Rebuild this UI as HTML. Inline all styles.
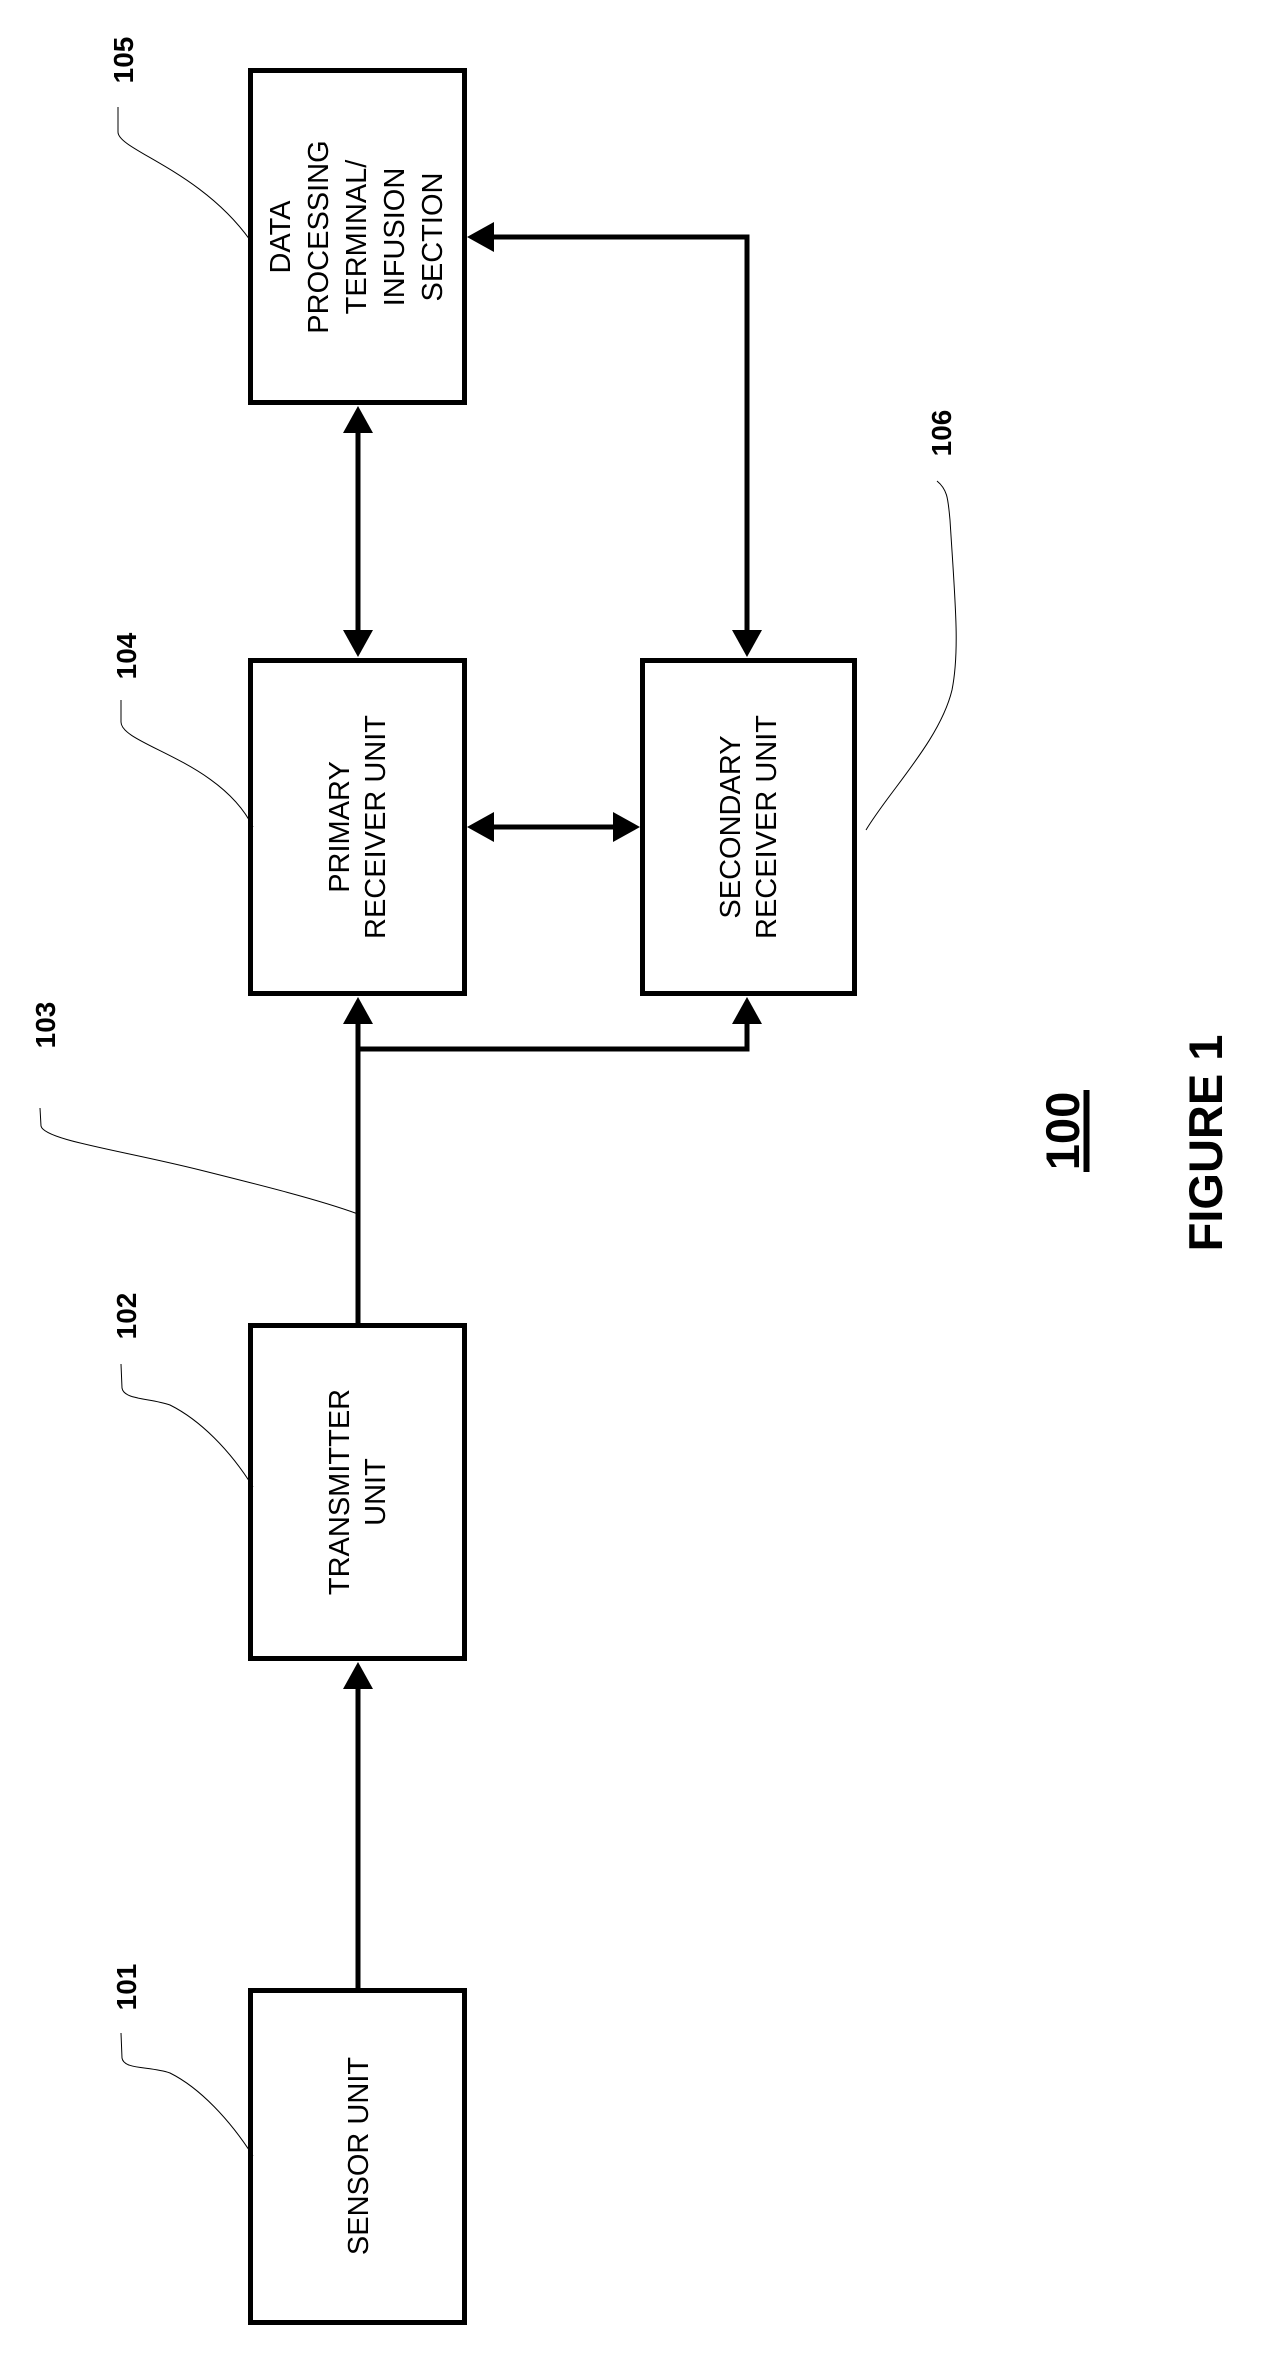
<!DOCTYPE html>
<html><head><meta charset="utf-8"><style>
html,body{margin:0;padding:0;background:#fff}
svg{display:block}
text{font-family:"Liberation Sans",Arial,sans-serif;fill:#000}
</style></head><body>
<svg width="1264" height="2362" viewBox="0 0 1264 2362" xmlns="http://www.w3.org/2000/svg">
<g fill="none" stroke="#000" stroke-width="5" stroke-linejoin="miter">
<rect x="250.5" y="70.5" width="214" height="332"/>
<rect x="250.5" y="660.5" width="214" height="333"/>
<rect x="642.5" y="660.5" width="212" height="333"/>
<rect x="250.5" y="1325.5" width="214" height="333"/>
<rect x="250.5" y="1990.5" width="214" height="332"/>
<!-- connectors -->
<line x1="358" y1="430" x2="358" y2="632"/>
<polyline points="494,237 747,237 747,632"/>
<line x1="494" y1="827" x2="613" y2="827"/>
<line x1="358" y1="1323" x2="358" y2="1022"/>
<polyline points="358,1049 747,1049 747,1022"/>
<line x1="358" y1="1988" x2="358" y2="1688"/>
</g>
<g fill="#000">
<polygon points="358,406 343,433 373,433"/>
<polygon points="358,657 343,630 373,630"/>
<polygon points="467,237 494,222 494,252"/>
<polygon points="747,657 732,630 762,630"/>
<polygon points="467,827 494,812 494,842"/>
<polygon points="640,827 613,812 613,842"/>
<polygon points="358,997 343,1024 373,1024"/>
<polygon points="747,997 732,1024 762,1024"/>
<polygon points="358,1662 343,1689 373,1689"/>
</g>
<!-- leaders -->
<g fill="none" stroke="#000" stroke-width="1">
<path d="M118,107 L118,132 C118,150 200,170 250,240"/>
<path d="M121,700 L121,722 C121,745 220,760 253,827"/>
<path d="M937,481 C948,490 948,500 950,520 C955,600 960,650 952,690 C940,740 890,790 866,830"/>
<path d="M40,1108 L41,1126 C44,1140 120,1150 200,1170 C260,1185 320,1200 358,1214"/>
<path d="M121,1364 L122,1388 C124,1400 150,1398 170,1405 C200,1420 230,1450 253,1487"/>
<path d="M121,2033 L122,2058 C124,2070 150,2066 170,2073 C200,2088 230,2120 253,2156"/>
</g>
<!-- labels -->
<g font-weight="bold" font-size="28" text-anchor="middle">
<text transform="translate(133,60) rotate(-90)">105</text>
<text transform="translate(136,656) rotate(-90)">104</text>
<text transform="translate(951,433) rotate(-90)">106</text>
<text transform="translate(55,1025) rotate(-90)">103</text>
<text transform="translate(136,1316) rotate(-90)">102</text>
<text transform="translate(136,1987) rotate(-90)">101</text>
</g>
<g font-size="29" text-anchor="middle">
<text transform="translate(290,237) rotate(-90)">DATA</text>
<text transform="translate(328,237) rotate(-90)">PROCESSING</text>
<text transform="translate(366,237) rotate(-90)">TERMINAL/</text>
<text transform="translate(404,237) rotate(-90)">INFUSION</text>
<text transform="translate(442,237) rotate(-90)">SECTION</text>
<text transform="translate(349,827) rotate(-90)">PRIMARY</text>
<text transform="translate(385,827) rotate(-90)">RECEIVER UNIT</text>
<text transform="translate(740,827) rotate(-90)">SECONDARY</text>
<text transform="translate(776,827) rotate(-90)">RECEIVER UNIT</text>
<text transform="translate(349,1492) rotate(-90)">TRANSMITTER</text>
<text transform="translate(385,1492) rotate(-90)">UNIT</text>
<text transform="translate(368,2156) rotate(-90)">SENSOR UNIT</text>
</g>
<g font-weight="bold" font-size="47" text-anchor="middle">
<text transform="translate(1079,1131) rotate(-90)">100</text>
<text transform="translate(1222,1143) rotate(-90)">FIGURE 1</text>
</g>
<line x1="1086.5" y1="1090" x2="1086.5" y2="1172" stroke="#000" stroke-width="6"/>
</svg>
</body></html>
